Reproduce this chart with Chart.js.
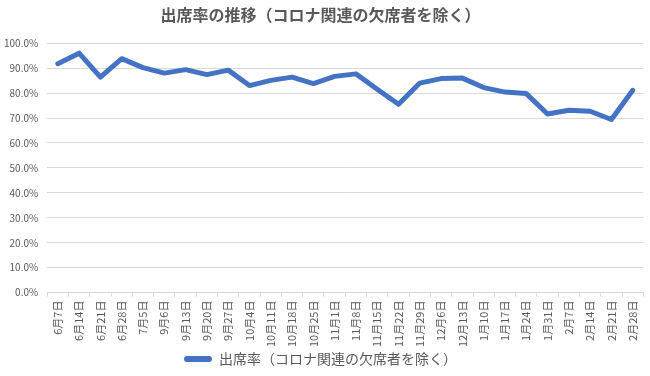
<!DOCTYPE html>
<html>
<head>
<meta charset="utf-8">
<script src="https://cdn.jsdelivr.net/npm/chart.js@4.4.1/dist/chart.umd.min.js"></script>
<style>
  body { margin: 0; background: #fff; }
  #graph { width: 650px; height: 376px; }
</style>
</head>
<body>
<div id="graph"><canvas id="grafico" width="650" height="376"></canvas></div>
<script>
var titulo = '出席率の推移（コロナ関連の欠席者を除く）';
var nombreSerie = '出席率（コロナ関連の欠席者を除く）';
var fechas = ['6月7日', '6月14日', '6月21日', '6月28日', '7月5日', '9月6日', '9月13日', '9月20日', '9月27日',
  '10月4日', '10月11日', '10月18日', '10月25日', '11月1日', '11月8日', '11月15日', '11月22日', '11月29日',
  '12月6日', '12月13日', '1月10日', '1月17日', '1月24日', '1月31日', '2月7日', '2月14日', '2月21日', '2月28日'];
var asistencia = [0.918, 0.960, 0.864, 0.938, 0.902, 0.880, 0.894, 0.874, 0.892,
  0.830, 0.851, 0.864, 0.838, 0.867, 0.877, 0.815, 0.755, 0.840,
  0.858, 0.860, 0.822, 0.804, 0.798, 0.716, 0.731, 0.727, 0.694, 0.811];

var colorLinea = '#4472C4';
var fuente = '"Noto Sans CJK JP", "Noto Sans", sans-serif';

Chart.defaults.font.family = fuente;
Chart.defaults.color = '#595959';

var contexto = document.getElementById('grafico').getContext('2d');
var chart = new Chart(contexto, {
  type: 'line',
  data: {
    labels: fechas,
    datasets: [{
      label: nombreSerie,
      data: asistencia,
      borderColor: colorLinea,
      backgroundColor: colorLinea,
      borderWidth: 5,
      borderJoinStyle: 'round',
      borderCapStyle: 'round',
      pointRadius: 0,
      tension: 0
    }]
  },
  options: {
    responsive: false,
    animation: false,
    layout: { padding: { left: -5, right: 4, top: 3, bottom: 0 } },
    plugins: {
      title: {
        display: true,
        text: titulo,
        color: '#595959',
        font: { size: 16, weight: 'bold' },
        padding: { top: 2, bottom: 19 }
      },
      legend: {
        position: 'bottom',
        labels: {
          boxWidth: 28,
          boxHeight: 6,
          useBorderRadius: true,
          borderRadius: 3,
          color: '#595959',
          font: { size: 14 },
          padding: 1,
          generateLabels: function(chart) {
            var items = Chart.defaults.plugins.legend.labels.generateLabels(chart);
            items.forEach(function(item) {
              item.lineWidth = 0;
              item.fillStyle = colorLinea;
            });
            return items;
          }
        }
      },
      tooltip: { enabled: false }
    },
    scales: {
      y: {
        min: 0,
        max: 1,
        ticks: {
          stepSize: 0.1,
          padding: 9,
          font: { size: 10 },
          callback: function(v) { return (v * 100).toFixed(1) + '%'; }
        },
        grid: { color: '#d9d9d9', drawTicks: false },
        border: { display: false }
      },
      x: {
        offset: true,
        ticks: {
          minRotation: 90,
          maxRotation: 90,
          autoSkip: false,
          padding: 4,
          font: { size: 11 }
        },
        grid: { offset: true, drawOnChartArea: false, color: '#d9d9d9', tickLength: 4 },
        border: { color: '#d9d9d9' }
      }
    }
  }
});
</script>
</body>
</html>
